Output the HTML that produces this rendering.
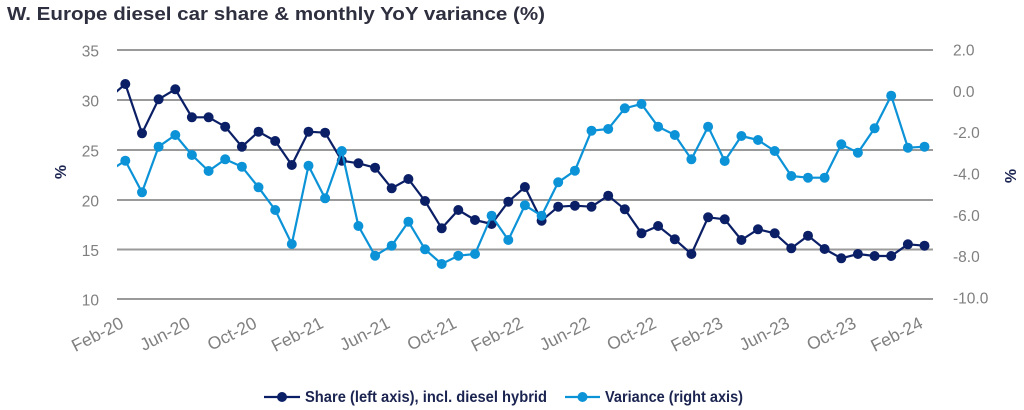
<!DOCTYPE html>
<html>
<head>
<meta charset="utf-8">
<style>
  html, body { margin:0; padding:0; background:#ffffff; }
  body { width:1024px; height:410px; overflow:hidden; }
  svg { display:block; }
  text { font-family: "Liberation Sans", Arial, sans-serif; }
</style>
</head>
<body>
<svg width="1024" height="410" viewBox="0 0 1024 410" xmlns="http://www.w3.org/2000/svg">
  <defs>
    <marker id="mS" markerUnits="userSpaceOnUse" markerWidth="12" markerHeight="12" refX="6" refY="6" viewBox="0 0 12 12">
      <circle cx="6" cy="6" r="5" fill="#0b1f66"/>
    </marker>
    <marker id="mV" markerUnits="userSpaceOnUse" markerWidth="12" markerHeight="12" refX="6" refY="6" viewBox="0 0 12 12">
      <circle cx="6" cy="6" r="5" fill="#0c93d7"/>
    </marker>
    <clipPath id="plot"><rect x="117" y="30" width="820" height="290"/></clipPath>
  </defs>

  <!-- Title -->
  <text x="7" y="20" font-size="18" font-weight="bold" fill="#2e2f3f" textLength="538" lengthAdjust="spacingAndGlyphs">W. Europe diesel car share &amp; monthly YoY variance (%)</text>

  <!-- Gridlines -->
  <g stroke="#9a9a9a" stroke-width="2">
    <line x1="117" y1="50" x2="933" y2="50"/>
    <line x1="117" y1="100" x2="933" y2="100"/>
    <line x1="117" y1="150" x2="933" y2="150"/>
    <line x1="117" y1="200" x2="933" y2="200"/>
    <line x1="117" y1="249.5" x2="933" y2="249.5"/>
    <line x1="117" y1="299" x2="933" y2="299"/>
  </g>

  <!-- Left axis labels -->
  <g font-size="15.5" fill="#7f7f7f" text-anchor="end">
    <text x="99" y="56.5">35</text>
    <text x="99" y="106.5">30</text>
    <text x="99" y="156.5">25</text>
    <text x="99" y="206.5">20</text>
    <text x="99" y="256">15</text>
    <text x="99" y="305.5">10</text>
  </g>

  <!-- Right axis labels -->
  <g font-size="15.5" fill="#7f7f7f">
    <text x="953" y="55.5">2.0</text>
    <text x="953" y="96.8">0.0</text>
    <text x="953" y="138.2">-2.0</text>
    <text x="953" y="179.5">-4.0</text>
    <text x="953" y="220.8">-6.0</text>
    <text x="953" y="262.2">-8.0</text>
    <text x="953" y="303.5">-10.0</text>
  </g>

  <!-- Axis titles -->
  <text transform="translate(66,172) rotate(-90)" font-size="16" font-weight="bold" fill="#1b2450" text-anchor="middle">%</text>
  <text transform="translate(1016,176) rotate(-90)" font-size="16" font-weight="bold" fill="#1b2450" text-anchor="middle">%</text>

  <!-- X axis labels -->
  <g font-size="17.5" fill="#808080" text-anchor="end">
    <text transform="translate(124.8,327) rotate(-27)">Feb-20</text>
    <text transform="translate(191.4,327) rotate(-27)">Jun-20</text>
    <text transform="translate(258.0,327) rotate(-27)">Oct-20</text>
    <text transform="translate(324.6,327) rotate(-27)">Feb-21</text>
    <text transform="translate(391.2,327) rotate(-27)">Jun-21</text>
    <text transform="translate(457.8,327) rotate(-27)">Oct-21</text>
    <text transform="translate(524.4,327) rotate(-27)">Feb-22</text>
    <text transform="translate(591.0,327) rotate(-27)">Jun-22</text>
    <text transform="translate(657.6,327) rotate(-27)">Oct-22</text>
    <text transform="translate(724.2,327) rotate(-27)">Feb-23</text>
    <text transform="translate(790.8,327) rotate(-27)">Jun-23</text>
    <text transform="translate(857.4,327) rotate(-27)">Oct-23</text>
    <text transform="translate(924.0,327) rotate(-27)">Feb-24</text>
  </g>

  <!-- Share series -->
  <g clip-path="url(#plot)">
    <line x1="108" y1="99" x2="125.3" y2="84" stroke="#0b1f66" stroke-width="2.2"/>
    <line x1="108" y1="172" x2="125.3" y2="160.7" stroke="#0c93d7" stroke-width="2.2"/>
  </g>
  <polyline fill="none" stroke="#0b1f66" stroke-width="2.2" stroke-linejoin="round"
    marker-start="url(#mS)" marker-mid="url(#mS)" marker-end="url(#mS)"
    points="125.3,84 142.0,133.3 158.6,99.3 175.3,89.3 191.9,117.3 208.6,117.3 225.2,126.7 241.9,146.7 258.5,131.7 275.2,141 291.8,165 308.5,131.7 325.1,132.7 341.8,160.7 358.4,163.3 375.1,167.7 391.7,188.3 408.4,179 425.0,201 441.7,228.3 458.3,210 475.0,220 491.6,224 508.3,201.7 524.9,187 541.6,220.7 558.2,206.7 574.9,205.7 591.5,206.7 608.2,195.7 624.8,209.3 641.5,233.3 658.1,226 674.8,239.3 691.4,254 708.1,217.3 724.7,219.3 741.4,240 758.0,229.3 774.7,233.3 791.3,248.3 808.0,235.7 824.6,249 841.3,258.3 857.9,254 874.6,256 891.2,256 907.9,244.3 924.5,245.7"/>

  <!-- Variance series -->
  <polyline fill="none" stroke="#0c93d7" stroke-width="2.2" stroke-linejoin="round"
    marker-start="url(#mV)" marker-mid="url(#mV)" marker-end="url(#mV)"
    points="125.3,160.7 142.0,192.3 158.6,146.7 175.3,135 191.9,155 208.6,171 225.2,159.3 241.9,166.7 258.5,187.3 275.2,210 291.8,244 308.5,165.7 325.1,198.3 341.8,151 358.4,226 375.1,255.7 391.7,245.7 408.4,221.7 425.0,249.3 441.7,264 458.3,255.7 475.0,254 491.6,215.7 508.3,240 524.9,205.3 541.6,215.7 558.2,182.3 574.9,170.7 591.5,130.7 608.2,129 624.8,108.3 641.5,104 658.1,126.7 674.8,135 691.4,159.3 708.1,126.7 724.7,161 741.4,136 758.0,140 774.7,151 791.3,176 808.0,177.7 824.6,177.7 841.3,144.3 857.9,152.7 874.6,128.3 891.2,95.7 907.9,147.7 924.5,146.7"/>

  <!-- Legend -->
  <line x1="264" y1="397" x2="300" y2="397" stroke="#0b1f66" stroke-width="2.2"/>
  <circle cx="282" cy="397" r="5" fill="#0b1f66"/>
  <text x="305" y="402" font-size="16" font-weight="bold" fill="#1b2450" textLength="242" lengthAdjust="spacingAndGlyphs">Share (left axis), incl. diesel hybrid</text>

  <line x1="565" y1="397" x2="600" y2="397" stroke="#0c93d7" stroke-width="2.2"/>
  <circle cx="582.5" cy="397" r="5" fill="#0c93d7"/>
  <text x="605" y="402" font-size="16" font-weight="bold" fill="#1b2450" textLength="138" lengthAdjust="spacingAndGlyphs">Variance (right axis)</text>
</svg>
</body>
</html>
